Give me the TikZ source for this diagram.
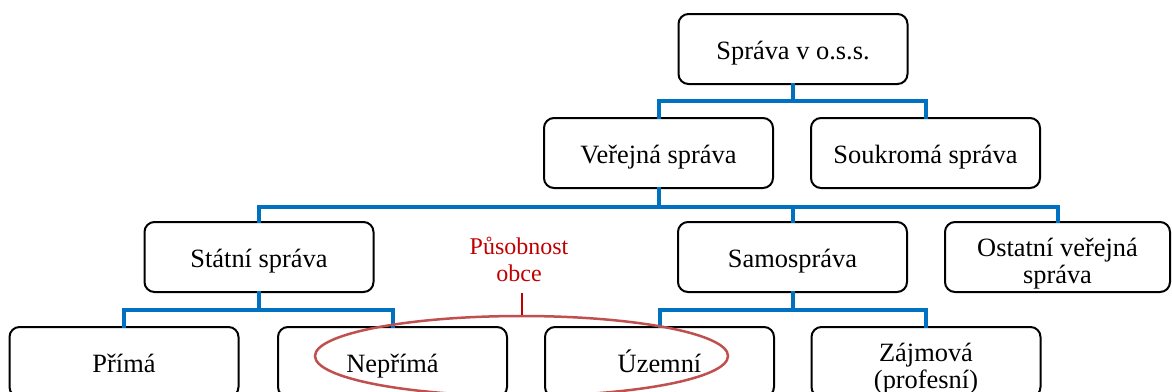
\documentclass[tikz,border=0pt]{standalone}
\usepackage{fontspec}
\setmainfont{Liberation Serif}
\usetikzlibrary{shapes.geometric,calc}
\definecolor{connblue}{HTML}{0070C0}
\definecolor{txtred}{HTML}{C00000}
\definecolor{ellred}{HTML}{C0504D}
\newcommand{\lowstrut}{\rule{0pt}{32pt}}
\begin{document}
\begin{tikzpicture}[x=1pt,y=1pt,
  box/.style={draw=black, line width=2pt, rounded corners=10pt, minimum width=229pt, minimum height=70pt, inner sep=0pt, align=center, font=\fontsize{26.4}{28.5}\selectfont},
  onebox/.style={box, text height=20pt, text depth=0pt},
  conn/.style={draw=connblue, line width=4pt, line cap=rect},
  note/.style={text=txtred, align=center, font=\fontsize{24}{27}\selectfont, inner sep=0pt},
  ring/.style={draw=ellred, line width=2.5pt},
  tick/.style={draw=txtred, line width=2pt}]
\useasboundingbox (0,0) rectangle (1172,-391);
\clip (0,0) rectangle (1172,-391);
% level 1
\node[onebox] (top) at (793,-49) {Správa v o.s.s.};
% level 2
\node[onebox] (ver) at (658.5,-153) {Veřejná správa};
\node[onebox] (souk) at (925.5,-153) {Soukromá správa};
% level 3
\node[onebox] (stat) at (259,-257) {Státní správa};
\node[onebox] (samo) at (792.5,-257) {Samospráva};
\node[box, minimum width=225pt] (ost) at (1057.5,-257) {\lowstrut Ostatní veřejná\\[-1pt]správa};
% level 4
\node[onebox] (prima) at (124,-362) {Přímá};
\node[onebox] (nepr) at (392.5,-362) {Nepřímá};
\node[onebox] (uzem) at (659.5,-362) {Územní};
\node[box] (zajm) at (926,-362) {\lowstrut Zájmová\\[-1pt](profesní)};
% connectors
\draw[conn] (top.south) -- ++(0,-16) -| (ver.north);
\draw[conn] (top.south) -- ++(0,-16) -| (souk.north);
\draw[conn] (ver.south) -- ++(0,-18) -| (stat.north);
\draw[conn] (ver.south) -- ++(0,-18) -| (samo.north);
\draw[conn] (ver.south) -- ++(0,-18) -| (ost.north);
\draw[conn] (stat.south) -- ++(0,-17) -| (prima.north);
\draw[conn] (stat.south) -- ++(0,-17) -| (nepr.north);
\draw[conn] (samo.south) -- ++(0,-17) -| (uzem.north);
\draw[conn] (samo.south) -- ++(0,-17) -| (zajm.north);
% annotation
\node[ring, ellipse, minimum width=413pt, minimum height=80pt, inner sep=0pt] (ell) at (521.5,-356) {};
\node[note] (pus) at (519,-259) {Působnost\\obce};
\coordinate (tk) at (522,-293);
\draw[tick] (tk) -- (tk |- ell.north);
\end{tikzpicture}
\end{document}
